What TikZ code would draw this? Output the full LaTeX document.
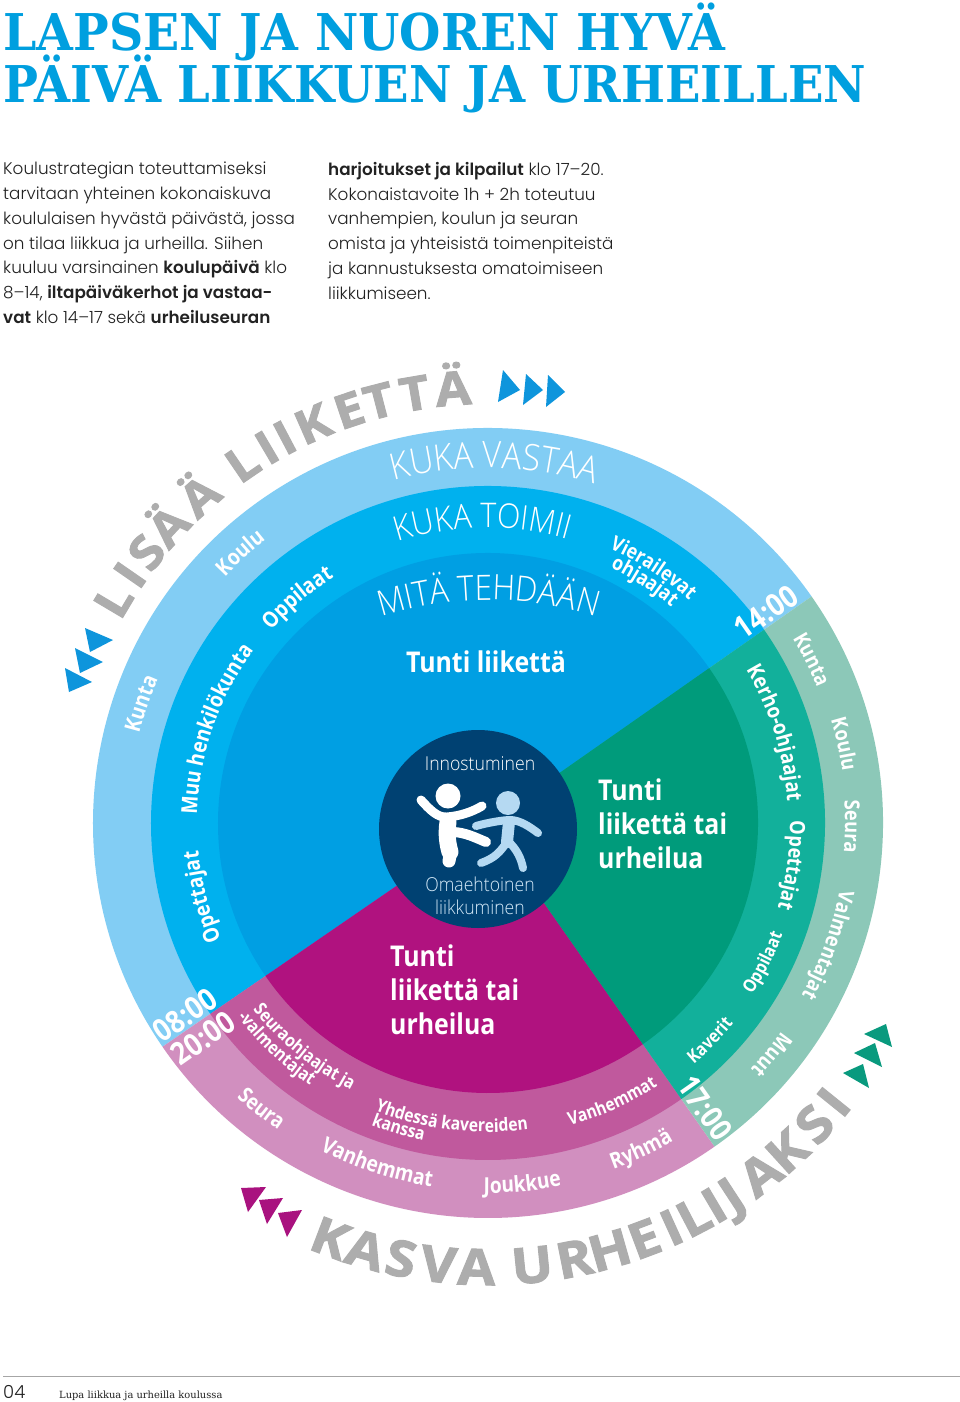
\documentclass[tikz,border=0pt]{standalone}
\usepackage{fontspec}
\usetikzlibrary{decorations.text,calc}
\newfontfamily\titlea{DejaVu Serif}[FakeStretch=0.936]
\newfontfamily\titleb{DejaVu Serif}[FakeStretch=0.918]
\newfontfamily\bodyf{Poppins Light}[BoldFont={Poppins SemiBold}]
\newfontfamily\labf{Open Sans}[FakeStretch=0.87]
\newfontfamily\capf{Open Sans Light}[FakeStretch=0.9]
\newfontfamily\lightf{Open Sans Light}[FakeStretch=0.92]
\newfontfamily\bigf{Open Sans}[FakeStretch=1.1,BoldFeatures={FakeBold=2}]
\newfontfamily\footf{DejaVu Serif}
\definecolor{bA}{HTML}{82CDF4}\definecolor{bB}{HTML}{00B1EE}\definecolor{bC}{HTML}{009FE3}
\definecolor{mA}{HTML}{D18FBF}\definecolor{mB}{HTML}{C0599D}\definecolor{mC}{HTML}{B0127F}
\definecolor{gA}{HTML}{8CC8B8}\definecolor{gB}{HTML}{12B09B}\definecolor{gC}{HTML}{009B7B}
\definecolor{hub}{HTML}{004172}\definecolor{titleblue}{HTML}{009FDF}
\definecolor{graytxt}{HTML}{ADADAD}\definecolor{figblue}{HTML}{B5D9F2}\definecolor{bodytxt}{HTML}{222222}
\definecolor{triblue}{HTML}{0E95DC}\definecolor{trimag}{HTML}{A9127F}\definecolor{trigreen}{HTML}{099A7E}
\newcommand{\fsz}[1]{\fontsize{#1}{#1}\selectfont}
\newcommand{\sector}[4]{\fill[#4] (C) -- ($(C)+(#1:#3pt)$) arc[start angle=#1,end angle=#2,radius=#3pt] -- cycle;}
\newcommand{\cwtext}[4]{\path[decorate,decoration={text along path,text align=center,text={|#3|#4}}]
  ($(C)+(#2+70:#1pt)$) arc[start angle=#2+70,end angle=#2-70,radius=#1pt];}
\newcommand{\ccwtext}[4]{\path[decorate,decoration={text along path,text align=center,text={|#3|#4}}]
  ($(C)+(#2-70:#1pt)$) arc[start angle=#2-70,end angle=#2+70,radius=#1pt];}
\newcommand{\lab}[1]{\labf\bfseries\fsz{#1}\color{white}}
\tikzset{
  x=1pt,y=1pt,
  titleline/.style={anchor=base west,inner sep=0pt,text=titleblue},
  bodycol/.style={anchor=north west,inner sep=0pt,align=left,text=bodytxt,font=\bodyf\fontsize{16.8}{24.75}\selectfont},
  timelabel/.style={inner sep=0pt,text=white,font=\labf\bfseries\fsz{31}},
  biglabel/.style={anchor=north west,inner sep=0pt,align=left,text=white,font=\labf\bfseries\fontsize{28.6}{34}\selectfont},
  hublabel/.style={inner sep=0pt,font=\lightf\fontsize{19.2}{23}\selectfont,align=center},
  bigletter/.style={anchor=base,inner sep=0pt,text=graytxt,font=\bigf\bfseries\fsz{#1}},
}
\begin{document}
\begin{tikzpicture}
\useasboundingbox (0,0) rectangle (960,-1402);
\fill[white] (0,0) rectangle (960,-1402);
\coordinate (C) at (488,-823);
\coordinate (Cflat) at (488.5,-955);
% title
\node[titleline,font=\titlea\bfseries\fsz{50.7}] (title1) at (3,-50.5) {LAPSEN JA NUOREN HYVÄ};
\node[titleline,font=\titleb\bfseries\fsz{50.7}] (title2) at (3,-103) {PÄIVÄ LIIKKUEN JA URHEILLEN};
% body
\node[bodycol] (body1) at (3,-162) {Koulustrategian toteuttamiseksi\\tarvitaan yhteinen kokonaiskuva\\koululaisen hyvästä päivästä, jossa\\on tilaa liikkua ja urheilla. Siihen\\kuuluu varsinainen \textbf{koulupäivä} klo\\8–14, \textbf{iltapäiväkerhot ja vastaa-}\\\textbf{vat} klo 14–17 sekä \textbf{urheiluseuran}};
\node[bodycol] (body2) at (328,-162) {\textbf{harjoitukset ja kilpailut} klo 17–20.\\Kokonaistavoite 1h + 2h toteutuu\\vanhempien, koulun ja seuran\\omista ja yhteisistä toimenpiteistä\\ja kannustuksesta omatoimiseen\\liikkumiseen.};
% wheel
\sector{35}{214.5}{395}{bA}\sector{214.5}{305}{395}{mA}\sector{-55}{35}{395}{gA}
\sector{35}{214.5}{337}{bB}\sector{214.5}{305}{337}{mB}\sector{-55}{35}{337}{gB}
\sector{35}{214.5}{270}{bC}\sector{214.5}{305}{270}{mC}\sector{-55}{35}{270}{gC}
\fill[hub] (478,-829) circle[radius=99pt];
% headings
\cwtext{355}{89}{\capf\fsz{36.5}\color{white}}{KUKA VASTAA}
\cwtext{295}{91}{\capf\fsz{34}\color{white}}{KUKA TOIMII}
\path[decorate,decoration={text along path,text align=center,text={|\capf\fsz{35}\color{white}|MITÄ TEHDÄÄN}}]
  ($(Cflat)+(135:355pt)$) arc[start angle=135,end angle=45,radius=355pt];
% big grey, letter by letter because the reference spaces them widely
\foreach \ch/\ang [count=\i] in {L/149.3,I/145.3,S/141.6,Ä/137.1,Ä/131.4,L/124.3,I/120.5,I/117.8,K/113.7,E/108.6,T/104.5,T/99.7,Ä/94.6}
  \node[bigletter=47,rotate=\ang-90] (lisaa\i) at ($(C)+(\ang:419pt)$) {\ch};
\foreach \ch/\ang [count=\i] in {K/-110.8,A/-106,S/-101.3,V/-96.4,A/-91.5,U/-84.3,R/-78.8,H/-74.1,E/-69.4,I/-65.6,L/-62.4,I/-59.4,J/-56.8,A/-52.2,K/-47.7,S/-42.7,I/-38.9}
  \node[bigletter=50,rotate=\ang+90] (kasva\i) at ($(C)+(\ang:462pt)$) {\ch};
% blue outer
\cwtext{360}{161}{\lab{22}}{Kunta}
\cwtext{360}{132.5}{\lab{22}}{Koulu}
% blue middle
\cwtext{291}{161}{\lab{22}}{Muu henkilökunta}
\cwtext{290}{130.2}{\lab{22}}{Oppilaat}
\cwtext{291}{194.5}{\lab{22}}{Opettajat}
\cwtext{300}{57}{\lab{20.3}}{Vierailevat}
\cwtext{283}{57}{\lab{20.3}}{ohjaajat}
% green outer
\cwtext{356}{26.8}{\lab{21}}{Kunta}
\cwtext{358}{12.5}{\lab{21}}{Koulu}
\cwtext{357}{-0.6}{\lab{21}}{Seura}
\cwtext{358}{-19.8}{\lab{21}}{Valmentajat}
\cwtext{360}{-39.3}{\lab{21}}{Muut}
% green middle
\cwtext{300}{17.4}{\lab{21.5}}{Kerho-ohjaajat}
\cwtext{302}{-8}{\lab{21}}{Opettajat}
\ccwtext{315}{-26.9}{\lab{18}}{Oppilaat}
\ccwtext{317}{-44.4}{\lab{18}}{Kaverit}
% magenta middle
\ccwtext{300}{230.6}{\lab{18}}{Seuraohjaajat ja}
\ccwtext{317}{226.8}{\lab{18}}{-valmentajat}
\ccwtext{309}{263}{\lab{18}}{Yhdessä kavereiden}
\ccwtext{324}{253.7}{\lab{18}}{kanssa}
\ccwtext{313}{-66}{\lab{18}}{Vanhemmat}
% magenta outer
\ccwtext{372}{231.6}{\lab{21.5}}{Seura}
\ccwtext{368}{252}{\lab{22}}{Vanhemmat}
\ccwtext{370}{-84.6}{\lab{22}}{Joukkue}
\ccwtext{368}{-64.9}{\lab{22}}{Ryhmä}
% times
\node[timelabel,rotate=35] (t14) at (766,-612) {14:00};
\node[timelabel,rotate=-55] (t17) at (705,-1108) {17:00};
\node[timelabel,rotate=35] (t08) at (185,-1015) {08:00};
\node[timelabel,rotate=35] (t20) at (203,-1038) {20:00};
% sector titles
\node[inner sep=0pt,text=white,font=\labf\bfseries\fsz{28.6}] (lblue) at (486,-662) {Tunti liikettä};
\node[biglabel] (lgreen) at (598,-779) {Tunti\\liikettä tai\\urheilua};
\node[biglabel] (lmag) at (390,-945) {Tunti\\liikettä tai\\urheilua};
% hub
\node[hublabel,text=white] (inno) at (480,-764) {Innostuminen};
\node[hublabel,text=figblue!60!white] (omae) at (480,-896) {Omaehtoinen\\liikkuminen};
% figures
\begin{scope}[line cap=round,line join=round,figblue]
\fill (508,-803) circle[radius=12pt];
\draw[line width=8pt] (476,-826) .. controls (490,-822) and (505,-820) .. (510,-820) .. controls (520,-820) and (530,-827) .. (538,-833);
\draw[line width=12pt] (509,-822) -- (507,-842);
\draw[line width=8pt] (507,-842) .. controls (500,-852) and (495,-858) .. (481,-863);
\draw[line width=8pt] (509,-842) .. controls (517,-850) and (521,-858) .. (523,-868);
\end{scope}
\begin{scope}[line cap=round,line join=round,white]
\fill (448,-796) circle[radius=12.5pt];
\draw[line width=9pt] (421,-800) .. controls (430,-810) and (438,-818) .. (447,-817) .. controls (460,-816) and (472,-812) .. (482,-806);
\draw[line width=17pt] (448,-822) .. controls (446,-835) and (448,-845) .. (450,-852);
\draw[line width=13pt] (451,-850) -- (449,-861);
\draw[line width=10pt] (452,-832) .. controls (465,-832) and (476,-838) .. (486,-842);
\end{scope}
% triangles
\fill[triblue] (503,-370) -- (520,-390) -- (498,-402) -- cycle;
\fill[triblue] (526,-374) -- (543,-390) -- (523,-405) -- cycle;
\fill[triblue] (548,-375) -- (565,-392) -- (546,-407) -- cycle;
\fill[triblue] (85,-628) -- (113,-640) -- (90,-652) -- cycle;
\fill[triblue] (75,-648) -- (103,-662) -- (80,-673) -- cycle;
\fill[triblue] (65,-668) -- (92,-682) -- (69,-692) -- cycle;
\fill[trimag] (241,-1188) -- (266,-1187) -- (248,-1212) -- cycle;
\fill[trimag] (259,-1200) -- (283,-1198) -- (267,-1224) -- cycle;
\fill[trimag] (278,-1213) -- (302,-1210) -- (287,-1237) -- cycle;
\fill[trigreen] (864,-1034) -- (886,-1024) -- (892,-1047) -- cycle;
\fill[trigreen] (854,-1053) -- (875,-1043) -- (882,-1067) -- cycle;
\fill[trigreen] (843,-1073) -- (863,-1064) -- (869,-1088) -- cycle;
% footer
\draw[gray!70,line width=1.3pt] (3,-1376.5) -- (960,-1376.5);
\node[anchor=base west,inner sep=0pt,font=\bodyf\fsz{18},text=bodytxt] (page) at (3,-1398) {04};
\node[anchor=base west,inner sep=0pt,font=\footf\fsz{9.9},text=bodytxt] (foot) at (59,-1398) {Lupa liikkua ja urheilla koulussa};
\end{tikzpicture}
\end{document}
